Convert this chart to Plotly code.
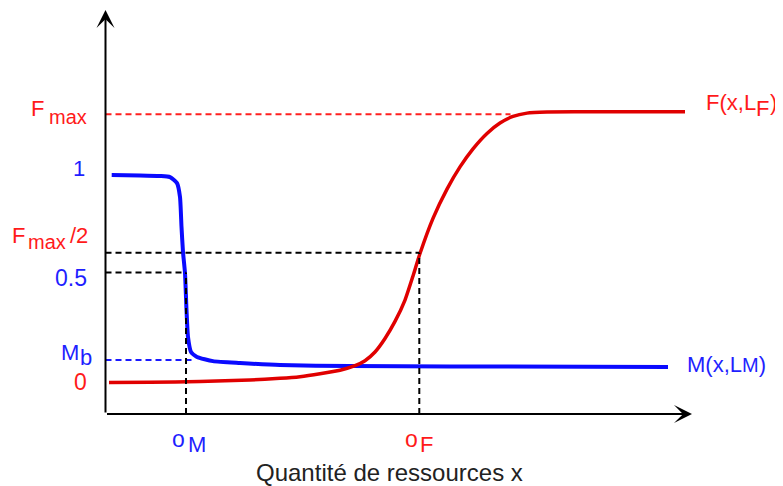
import plotly.graph_objects as go

# page body adds an 8px margin, so the figure is drawn 8px smaller and shifted
OFF = 8
W, H = 783 - OFF, 486 - OFF

# blue curve M(x, L_M): resource quantity -> value
m_x = [0.062, 0.345, 0.545, 0.645, 0.715, 0.745, 0.760, 0.775, 0.795, 0.810, 0.825,
       0.855, 0.915, 1.075, 1.345, 1.745, 2.445, 3.445, 5.625]
m_y = [1.000, 0.998, 0.995, 0.990, 0.961, 0.894, 0.750, 0.629, 0.528, 0.350, 0.220,
       0.148, 0.124, 0.104, 0.095, 0.085, 0.080, 0.078, 0.076]

# red curve F(x, L_F)
f_x = [0.035, 0.445, 0.945, 1.445, 1.745, 1.945, 2.145, 2.345, 2.495, 2.595, 2.695,
       2.795, 2.895, 2.995, 3.075, 3.145, 3.275, 3.415, 3.545, 3.675, 3.815, 3.945,
       4.075, 4.215, 4.415, 4.945, 5.795]
f_y = [0.001, 0.002, 0.006, 0.013, 0.021, 0.029, 0.043, 0.060, 0.082, 0.106, 0.148,
       0.213, 0.295, 0.398, 0.514, 0.622, 0.791, 0.932, 1.039, 1.126, 1.200, 1.250,
       1.282, 1.298, 1.303, 1.305, 1.305]

# reference levels
F_MAX = 1.292
F_HALF = 0.626
M_HALF = 0.530
M_B = 0.109
O_M = 0.805
O_F = 3.138
F_MAX_END = 4.05
M_B_END = 0.86

# axes
AX_Y = -0.151
X_END = 5.865
Y_END = 1.794

RED = "#e00000"
RED_TXT = "#ff1a1a"
BLUE = "#0a0aff"
BLUE_TXT = "#1f1fff"
FONT = "Liberation Sans"

fig = go.Figure()
fig.add_trace(go.Scatter(x=m_x, y=m_y, mode="lines",
                         line=dict(color=BLUE, width=4, shape="spline", smoothing=0.5),
                         hoverinfo="skip"))
fig.add_trace(go.Scatter(x=f_x, y=f_y, mode="lines",
                         line=dict(color=RED, width=3.5, shape="spline", smoothing=0.5),
                         hoverinfo="skip"))

dash = "6px,4px"


def hline(y, x1, color):
    fig.add_shape(type="line", x0=0, x1=x1, y0=y, y1=y,
                  line=dict(color=color, width=2, dash=dash))


def vline(x, y1):
    fig.add_shape(type="line", x0=x, x1=x, y0=AX_Y, y1=y1,
                  line=dict(color="black", width=2, dash=dash))


hline(F_MAX, F_MAX_END, "#ff2020")
hline(F_HALF, O_F, "black")
hline(M_HALF, O_M, "black")
hline(M_B, M_B_END, "#1a1aff")
vline(O_F, F_HALF)
vline(O_M, M_HALF)

# axes with arrow heads
for tip, tail in [((0, Y_END), (0, AX_Y)), ((X_END, AX_Y), (0, AX_Y))]:
    fig.add_annotation(x=tip[0], y=tip[1], ax=tail[0], ay=tail[1],
                       xref="x", yref="y", axref="x", ayref="y", text="",
                       showarrow=True, arrowhead=3, arrowsize=1.5, arrowwidth=2,
                       arrowcolor="black", standoff=0, startstandoff=0)


def label(text, px, py, color, size=22, anchor="right"):
    fig.add_annotation(x=(px - OFF) / W, y=1 - (py - OFF) / H,
                       xref="paper", yref="paper",
                       text=text, showarrow=False, xanchor=anchor, yanchor="middle",
                       font=dict(family=FONT, size=size, color=color))


# left labels
label("F", 46, 108, RED_TXT)
label("max", 47, 117, RED_TXT, size=20, anchor="left")
label("1", 87, 169, BLUE_TXT)
label("F", 27, 235, RED_TXT)
label("max", 26, 242, RED_TXT, size=20, anchor="left")
label("/2", 68, 235, RED_TXT, anchor="left")
label("0.5", 89, 278, BLUE_TXT, size=23)
label("M", 81, 352, BLUE_TXT)
label("b", 78, 357, BLUE_TXT, anchor="left")
label("0", 89, 382, RED_TXT, size=23)

# bottom labels
label("o", 187, 439, BLUE_TXT, size=23)
label("M", 186, 444, BLUE_TXT, anchor="left")
label("o", 420, 439, RED_TXT, size=23)
label("F", 418, 444, RED_TXT, anchor="left")
label("Quantité de ressources x", 389, 472, "#222222", size=24, anchor="center")

# right labels
label("F(x,L", 704, 102, RED_TXT, anchor="left")
label("F", 754, 109, RED_TXT, anchor="left")
label(")", 768, 102, RED_TXT, anchor="left")
label("M(x,L<span style='font-size:20px'>M</span>)", 685, 364, BLUE_TXT, anchor="left")

x0 = (OFF - 105.5) / 100
x1 = (783 - 105.5) / 100
y0 = (382.7 - 486) / 207.7
y1 = (382.7 - OFF) / 207.7

fig.update_layout(
    width=W, height=H,
    margin=dict(l=0, r=0, t=0, b=0),
    plot_bgcolor="white", paper_bgcolor="white",
    showlegend=False,
    xaxis=dict(range=[x0, x1], visible=False, fixedrange=True),
    yaxis=dict(range=[y0, y1], visible=False, fixedrange=True),
)

fig.write_html("out.html", config={"displayModeBar": False})
